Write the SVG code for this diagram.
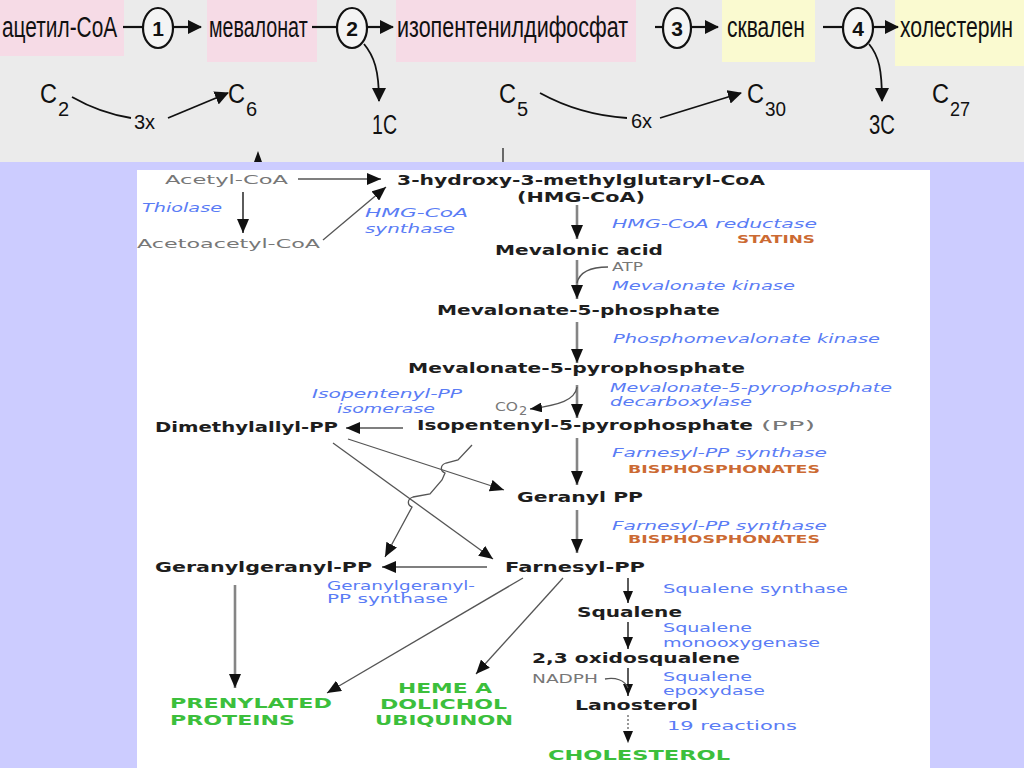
<svg xmlns="http://www.w3.org/2000/svg" width="1024" height="768" viewBox="0 0 1024 768">
<style>
.ru{font-family:"Liberation Sans",Arial,sans-serif;font-size:29px;fill:#111}
.num{font-family:"Liberation Sans",Arial,sans-serif;font-weight:bold;font-size:21px;fill:#111;text-anchor:middle}
.cs{font-family:"Liberation Sans",Arial,sans-serif;font-size:27px;fill:#111}
.sub{font-family:"Liberation Sans",Arial,sans-serif;font-size:20px;fill:#111}
.b{font-family:"DejaVu Sans",Verdana,sans-serif;font-weight:bold;font-size:14px;fill:#1e1e1e}
.e{font-family:"DejaVu Sans",Verdana,sans-serif;font-style:italic;font-size:13px;fill:#5a7cf5}
.eu{font-family:"DejaVu Sans",Verdana,sans-serif;font-size:13px;fill:#5a7cf5}
.g{font-family:"DejaVu Sans",Verdana,sans-serif;font-size:13px;fill:#777}
.o{font-family:"DejaVu Sans",Verdana,sans-serif;font-weight:bold;font-size:11px;fill:#cc6a33}
.gr{font-family:"DejaVu Sans",Verdana,sans-serif;font-weight:bold;font-size:14px;fill:#3cbf3c}
.bl{fill:none;stroke:#111;stroke-width:2.2}
.m{fill:none;stroke:#858585;stroke-width:2.6}
.t{fill:none;stroke:#555;stroke-width:1.3}
.k{fill:none;stroke:#333;stroke-width:1.6}
</style>
<defs>
<marker id="bh" viewBox="0 0 14 14" refX="13" refY="7" markerWidth="14" markerHeight="14" orient="auto" markerUnits="userSpaceOnUse"><path d="M0,0 L14,7 L0,14 z" fill="#111"/></marker>
<marker id="ah" viewBox="0 0 14 12" refX="14" refY="6" markerWidth="14" markerHeight="12" orient="auto" markerUnits="userSpaceOnUse"><path d="M0,0 L14,6 L0,12 z" fill="#111"/></marker>
<marker id="sh" viewBox="0 0 12 10" refX="12" refY="5" markerWidth="12" markerHeight="10" orient="auto" markerUnits="userSpaceOnUse"><path d="M0,0 L12,5 L0,10 z" fill="#111"/></marker>
</defs>

<!-- banner -->
<rect x="0" y="0" width="1024" height="162" fill="#ebebeb"/>
<rect x="0" y="0" width="124" height="56" fill="#f6dbe6"/>
<rect x="207" y="0" width="110" height="62" fill="#f6dbe6"/>
<rect x="396" y="0" width="240" height="62" fill="#f6dbe6"/>
<rect x="722" y="0" width="93" height="62" fill="#fafad0"/>
<rect x="895" y="0" width="129" height="66" fill="#fafad0"/>

<g id="banner-nodes">
<g id="b-acetylcoa"><text class="ru" transform="translate(2,37) scale(0.72,1)" textLength="160" lengthAdjust="spacingAndGlyphs">ацетил-CoA</text></g>
<g id="b-mevalonat"><text class="ru" transform="translate(209,37) scale(0.72,1)" textLength="137" lengthAdjust="spacingAndGlyphs">мевалонат</text></g>
<g id="b-ipp"><text class="ru" transform="translate(397,37) scale(0.72,1)" textLength="321" lengthAdjust="spacingAndGlyphs">изопентенилдифосфат</text></g>
<g id="b-squalen"><text class="ru" transform="translate(727,37) scale(0.72,1)" textLength="108" lengthAdjust="spacingAndGlyphs">сквален</text></g>
<g id="b-chol"><text class="ru" transform="translate(900,37) scale(0.72,1)" textLength="157" lengthAdjust="spacingAndGlyphs">холестерин</text></g>
<g id="b-step1"><ellipse cx="158" cy="28" rx="15" ry="20" fill="#f4f4f4" stroke="#111" stroke-width="2.2"/><text class="num" x="158" y="36">1</text></g>
<g id="b-step2"><ellipse cx="352" cy="28" rx="15" ry="20" fill="#f4f4f4" stroke="#111" stroke-width="2.2"/><text class="num" x="352" y="36">2</text></g>
<g id="b-step3"><ellipse cx="677" cy="28" rx="14" ry="20" fill="#f4f4f4" stroke="#111" stroke-width="2.2"/><text class="num" x="677" y="36">3</text></g>
<g id="b-step4"><ellipse cx="858" cy="28" rx="15" ry="20" fill="#f4f4f4" stroke="#111" stroke-width="2.2"/><text class="num" x="858" y="36">4</text></g>
<g id="b-c2"><text class="cs" x="40" y="103" textLength="17" lengthAdjust="spacingAndGlyphs">C</text><text class="sub" x="58" y="116">2</text></g>
<g id="b-c6"><text class="cs" x="228" y="103" textLength="17" lengthAdjust="spacingAndGlyphs">C</text><text class="sub" x="246" y="116">6</text></g>
<g id="b-1c"><text class="cs" x="372" y="134" textLength="25" lengthAdjust="spacingAndGlyphs">1C</text></g>
<g id="b-3x"><text class="sub" x="134" y="129" font-size="22">3x</text></g>
<g id="b-c5"><text class="cs" x="499" y="103" textLength="17" lengthAdjust="spacingAndGlyphs">C</text><text class="sub" x="517" y="116">5</text></g>
<g id="b-6x"><text class="sub" x="631" y="128" font-size="22">6x</text></g>
<g id="b-c30"><text class="cs" x="747" y="103" textLength="17" lengthAdjust="spacingAndGlyphs">C</text><text class="sub" x="765" y="116" textLength="21" lengthAdjust="spacingAndGlyphs">30</text></g>
<g id="b-3c"><text class="cs" x="869" y="134" textLength="26" lengthAdjust="spacingAndGlyphs">3C</text></g>
<g id="b-c27"><text class="cs" x="932" y="103" textLength="17" lengthAdjust="spacingAndGlyphs">C</text><text class="sub" x="950" y="116" textLength="20" lengthAdjust="spacingAndGlyphs">27</text></g>
</g>

<g id="banner-connectors">
<line class="bl" x1="123" y1="27" x2="143" y2="27"/>
<line class="bl" x1="173" y1="27" x2="201" y2="27" marker-end="url(#bh)"/>
<line class="bl" x1="312" y1="27" x2="337" y2="27"/>
<line class="bl" x1="367" y1="27" x2="393" y2="27" marker-end="url(#bh)"/>
<line class="bl" x1="655" y1="27" x2="663" y2="27"/>
<line class="bl" x1="691" y1="27" x2="718" y2="27" marker-end="url(#bh)"/>
<line class="bl" x1="823" y1="27" x2="843" y2="27"/>
<line class="bl" x1="873" y1="27" x2="898" y2="27" marker-end="url(#bh)"/>
<path d="M364,44 C374,56 379,70 379,101" fill="none" stroke="#111" stroke-width="1.8" marker-end="url(#bh)"/>
<path d="M869,44 C879,56 882,70 882,101" fill="none" stroke="#111" stroke-width="1.8" marker-end="url(#bh)"/>
<path d="M72,97 Q100,113 131,118" fill="none" stroke="#111" stroke-width="1.8"/>
<path d="M168,118 L228,93" fill="none" stroke="#111" stroke-width="1.8" marker-end="url(#bh)"/>
<path d="M540,93 Q580,115 627,118" fill="none" stroke="#111" stroke-width="1.8"/>
<path d="M660,118 L741,93" fill="none" stroke="#111" stroke-width="1.8" marker-end="url(#bh)"/>
<path d="M254,162 L258,151 L262,162 z" fill="#111"/>
<line x1="503" y1="148" x2="503" y2="162" stroke="#111" stroke-width="1.2"/>
</g>

<!-- panel -->
<rect x="0" y="162" width="1024" height="606" fill="#ccccff"/>
<rect x="137" y="170" width="793" height="598" fill="#ffffff"/>

<g id="connectors">
<line class="t" x1="298" y1="179" x2="381" y2="179" marker-end="url(#ah)"/>
<line class="k" x1="243" y1="192" x2="243" y2="233" marker-end="url(#ah)"/>
<line class="t" x1="323" y1="240" x2="386" y2="187" marker-end="url(#ah)"/>
<line class="m" x1="577" y1="205" x2="577" y2="239" marker-end="url(#ah)"/>
<line class="m" x1="577" y1="260" x2="577" y2="299" marker-end="url(#ah)"/>
<path class="t" d="M608,267 C595,267 580,270 577,283"/>
<line class="m" x1="577" y1="322" x2="577" y2="363" marker-end="url(#ah)"/>
<line class="m" x1="577" y1="385" x2="577" y2="418" marker-end="url(#ah)"/>
<path class="t" d="M577,387 C575,400 560,405 530,409" marker-end="url(#sh)"/>
<line class="t" x1="403" y1="428" x2="346" y2="428" marker-end="url(#ah)"/>
<line class="m" x1="577" y1="438" x2="577" y2="485" marker-end="url(#ah)"/>
<line class="m" x1="577" y1="510" x2="577" y2="553" marker-end="url(#ah)"/>
<line class="t" x1="348" y1="439" x2="504" y2="490" marker-end="url(#ah)"/>
<line class="t" x1="333" y1="443" x2="493" y2="559" marker-end="url(#ah)"/>
<path class="t" d="M472,445 L458,460 L446,463 C440,465 440,471 445,473 L442,480 L430,494 L413,497 C407,499 407,505 412,507 L385,557" marker-end="url(#ah)"/>
<line class="t" x1="487" y1="567" x2="382" y2="567" marker-end="url(#ah)"/>
<line class="k" x1="628" y1="578" x2="628" y2="603" marker-end="url(#sh)"/>
<line class="k" x1="628" y1="622" x2="628" y2="649" marker-end="url(#sh)"/>
<line class="k" x1="628" y1="668" x2="628" y2="696" marker-end="url(#sh)"/>
<path class="t" d="M605,679 C615,677 625,680 628,688"/>
<line x1="628" y1="715" x2="628" y2="734" stroke="#777" stroke-width="1.5" stroke-dasharray="2,2"/>
<line x1="628" y1="732" x2="628" y2="743" stroke="#111" stroke-width="0.1" marker-end="url(#sh)"/>
<line class="m" x1="235" y1="585" x2="235" y2="688" marker-end="url(#ah)"/>
<line class="t" x1="523" y1="578" x2="327" y2="693" marker-end="url(#ah)"/>
<line class="t" x1="563" y1="578" x2="476" y2="674" marker-end="url(#ah)"/>
</g>

<g id="n-acetylcoa"><text class="g" x="165" y="184" textLength="123" lengthAdjust="spacingAndGlyphs">Acetyl-CoA</text></g>
<g id="n-acetoacetylcoa"><text class="g" x="137" y="248" textLength="183" lengthAdjust="spacingAndGlyphs">Acetoacetyl-CoA</text></g>
<g id="e-thiolase"><text class="e" x="142" y="212" textLength="80" lengthAdjust="spacingAndGlyphs">Thiolase</text></g>
<g id="n-hmgcoa"><text class="b" x="397" y="185" textLength="368" lengthAdjust="spacingAndGlyphs">3-hydroxy-3-methylglutaryl-CoA</text><text class="b" x="517" y="202" textLength="128" lengthAdjust="spacingAndGlyphs">(HMG-CoA)</text></g>
<g id="e-hmgsynthase"><text class="e" x="365" y="217" textLength="103" lengthAdjust="spacingAndGlyphs">HMG-CoA</text><text class="e" x="365" y="233" textLength="90" lengthAdjust="spacingAndGlyphs">synthase</text></g>
<g id="e-hmgreductase"><text class="e" x="612" y="228" textLength="205" lengthAdjust="spacingAndGlyphs">HMG-CoA reductase</text><text class="o" x="737" y="243" textLength="78" lengthAdjust="spacingAndGlyphs">STATINS</text></g>
<g id="n-mevalonic"><text class="b" x="495" y="255" textLength="168" lengthAdjust="spacingAndGlyphs">Mevalonic acid</text></g>
<g id="e-mevkinase"><text class="g" x="612" y="271" textLength="31" lengthAdjust="spacingAndGlyphs">ATP</text><text class="e" x="612" y="290" textLength="183" lengthAdjust="spacingAndGlyphs">Mevalonate kinase</text></g>
<g id="n-m5p"><text class="b" x="437" y="315" textLength="283" lengthAdjust="spacingAndGlyphs">Mevalonate-5-phosphate</text></g>
<g id="e-pmk"><text class="e" x="613" y="343" textLength="267" lengthAdjust="spacingAndGlyphs">Phosphomevalonate kinase</text></g>
<g id="n-m5pp"><text class="b" x="408" y="373" textLength="337" lengthAdjust="spacingAndGlyphs">Mevalonate-5-pyrophosphate</text></g>
<g id="e-decarb"><text class="e" x="610" y="392" textLength="282" lengthAdjust="spacingAndGlyphs">Mevalonate-5-pyrophosphate</text><text class="e" x="610" y="406" textLength="142" lengthAdjust="spacingAndGlyphs">decarboxylase</text></g>
<g id="n-co2"><text class="g" x="495" y="411" textLength="23" lengthAdjust="spacingAndGlyphs">CO</text><text class="g" x="519" y="415" font-size="8">2</text></g>
<g id="n-ipp"><text class="b" x="417" y="430" textLength="336" lengthAdjust="spacingAndGlyphs">Isopentenyl-5-pyrophosphate</text><text class="g" x="761" y="430" textLength="54" lengthAdjust="spacingAndGlyphs">(PP)</text></g>
<g id="e-isomerase"><text class="e" x="312" y="398" textLength="150" lengthAdjust="spacingAndGlyphs">Isopentenyl-PP</text><text class="e" x="337" y="413" textLength="98" lengthAdjust="spacingAndGlyphs">isomerase</text></g>
<g id="n-dmapp"><text class="b" x="155" y="432" textLength="183" lengthAdjust="spacingAndGlyphs">Dimethylallyl-PP</text></g>
<g id="e-fpps1"><text class="e" x="612" y="457" textLength="215" lengthAdjust="spacingAndGlyphs">Farnesyl-PP synthase</text><text class="o" x="628" y="473" textLength="192" lengthAdjust="spacingAndGlyphs">BISPHOSPHONATES</text></g>
<g id="n-gpp"><text class="b" x="517" y="502" textLength="126" lengthAdjust="spacingAndGlyphs">Geranyl PP</text></g>
<g id="e-fpps2"><text class="e" x="612" y="530" textLength="215" lengthAdjust="spacingAndGlyphs">Farnesyl-PP synthase</text><text class="o" x="628" y="543" textLength="192" lengthAdjust="spacingAndGlyphs">BISPHOSPHONATES</text></g>
<g id="n-fpp"><text class="b" x="505" y="572" textLength="140" lengthAdjust="spacingAndGlyphs">Farnesyl-PP</text></g>
<g id="n-ggpp"><text class="b" x="155" y="572" textLength="217" lengthAdjust="spacingAndGlyphs">Geranylgeranyl-PP</text></g>
<g id="e-ggpps"><text class="eu" x="327" y="590" textLength="148" lengthAdjust="spacingAndGlyphs">Geranylgeranyl-</text><text class="eu" x="327" y="603" textLength="121" lengthAdjust="spacingAndGlyphs">PP synthase</text></g>
<g id="e-sqs"><text class="eu" x="663" y="593" textLength="185" lengthAdjust="spacingAndGlyphs">Squalene synthase</text></g>
<g id="n-squalene"><text class="b" x="577" y="617" textLength="105" lengthAdjust="spacingAndGlyphs">Squalene</text></g>
<g id="e-sqmo"><text class="eu" x="663" y="632" textLength="89" lengthAdjust="spacingAndGlyphs">Squalene</text><text class="eu" x="663" y="647" textLength="157" lengthAdjust="spacingAndGlyphs">monooxygenase</text></g>
<g id="n-oxido"><text class="b" x="532" y="663" textLength="208" lengthAdjust="spacingAndGlyphs">2,3 oxidosqualene</text></g>
<g id="n-nadph"><text class="g" x="532" y="683" textLength="66" lengthAdjust="spacingAndGlyphs">NADPH</text></g>
<g id="e-epox"><text class="eu" x="663" y="681" textLength="89" lengthAdjust="spacingAndGlyphs">Squalene</text><text class="eu" x="663" y="695" textLength="102" lengthAdjust="spacingAndGlyphs">epoxydase</text></g>
<g id="n-lanosterol"><text class="b" x="575" y="710" textLength="123" lengthAdjust="spacingAndGlyphs">Lanosterol</text></g>
<g id="e-19"><text class="eu" x="667" y="730" textLength="130" lengthAdjust="spacingAndGlyphs">19 reactions</text></g>
<g id="n-cholesterol"><text class="gr" x="548" y="760" textLength="182" lengthAdjust="spacingAndGlyphs">CHOLESTEROL</text></g>
<g id="n-prenylated"><text class="gr" x="170" y="708" textLength="162" lengthAdjust="spacingAndGlyphs">PRENYLATED</text><text class="gr" x="170" y="725" textLength="125" lengthAdjust="spacingAndGlyphs">PROTEINS</text></g>
<g id="n-heme"><text class="gr" x="398" y="693" textLength="94" lengthAdjust="spacingAndGlyphs">HEME A</text><text class="gr" x="380" y="709" textLength="127" lengthAdjust="spacingAndGlyphs">DOLICHOL</text><text class="gr" x="375" y="725" textLength="138" lengthAdjust="spacingAndGlyphs">UBIQUINON</text></g>
</svg>
